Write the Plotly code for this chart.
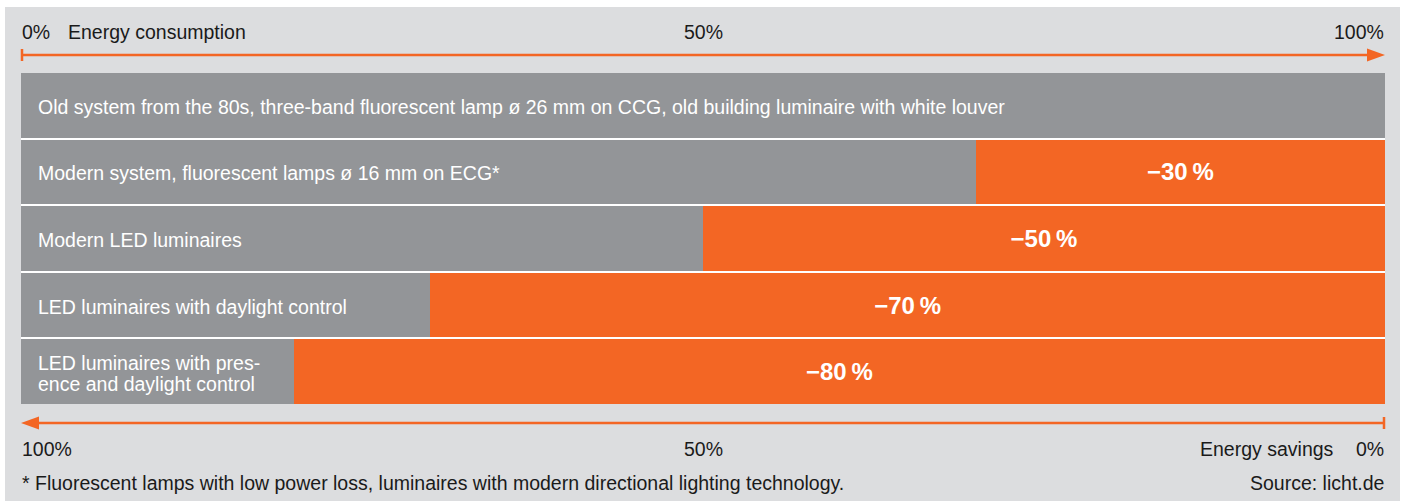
import plotly.graph_objects as go

# ---- data ----
categories = [
    "Old system from the 80s, three-band fluorescent lamp ø 26 mm on CCG, old building luminaire with white louver",
    "Modern system, fluorescent lamps ø 16 mm on ECG*",
    "Modern LED luminaires",
    "LED luminaires with daylight control",
    "LED luminaires with pres-<br>ence and daylight control",
]
consumption = [100, 70, 50, 30, 20]
savings = [0, 30, 50, 70, 80]
savings_labels = ["", "\u221230\u2009%", "\u221250\u2009%", "\u221270\u2009%", "\u221280\u2009%"]
top_ticks = [(0, "0%"), (50, "50%"), (100, "100%")]
bottom_ticks = [(0, "100%"), (50, "50%"), (100, "0%")]

GRAY = "#939598"
ORANGE = "#f36624"
BG = "#dcdddf"
TXT = "#1a1a1a"
FONT = "Liberation Sans, Arial, Helvetica, sans-serif"
FS = 19.5
LINE_H = 21

W, H = 1402, 501
L, R, T, B = 21, 1385, 73, 404  # plot area pixels


def py(ypx):
    return (B - ypx) / (B - T)


def px(xpx):
    return (xpx - L) / (R - L)


n = len(categories)
ypos = list(range(n))
gap = 0.03

fig = go.Figure()
fig.add_trace(go.Bar(
    y=ypos, x=consumption, orientation="h", marker=dict(color=GRAY, line=dict(width=0)),
    hoverinfo="skip", showlegend=False,
))
fig.add_trace(go.Bar(
    y=ypos, x=savings, orientation="h", marker=dict(color=ORANGE, line=dict(width=0)),
    text=savings_labels, textposition="inside", insidetextanchor="middle",
    textfont=dict(family=FONT, size=24, color="white", weight="bold"),
    hoverinfo="skip", showlegend=False,
))

annotations = []
# row labels (multi-line labels drawn line by line for tighter leading)
for i, c in enumerate(categories):
    lines = c.split("<br>")
    k = len(lines)
    for j, ln in enumerate(lines):
        annotations.append(dict(
            x=0, y=i, xref="x", yref="y", text=ln, showarrow=False, xanchor="left",
            yanchor="middle", xshift=15, yshift=((k - 1) / 2 - j) * LINE_H - 1.5, align="left",
            font=dict(family=FONT, size=FS, color="white"),
        ))

# top axis labels
for v, t in top_ticks:
    xa = "left" if v == 0 else ("right" if v == 100 else "center")
    annotations.append(dict(x=v, y=py(32), xref="x", yref="paper", text=t, showarrow=False,
                            xanchor=xa, yanchor="middle", xshift=-1 if v == 0 else (1 if v == 100 else 0),
                            font=dict(family=FONT, size=FS, color=TXT)))
annotations.append(dict(x=px(66), y=py(32), xref="paper", yref="paper", text="Energy consumption",
                        showarrow=False, xanchor="left", yanchor="middle",
                        font=dict(family=FONT, size=FS, color=TXT)))
# bottom axis labels
for v, t in bottom_ticks:
    xa = "left" if v == 0 else ("right" if v == 100 else "center")
    annotations.append(dict(x=v, y=py(449), xref="x", yref="paper", text=t, showarrow=False,
                            xanchor=xa, yanchor="middle", xshift=-1 if v == 0 else (1 if v == 100 else 0),
                            font=dict(family=FONT, size=FS, color=TXT)))
annotations.append(dict(x=px(1336), y=py(449), xref="paper", yref="paper", text="Energy savings",
                        showarrow=False, xanchor="right", yanchor="middle",
                        font=dict(family=FONT, size=FS, color=TXT)))
# footnote and source
annotations.append(dict(x=0, y=py(483), xref="paper", yref="paper", xshift=-1,
                        text="* Fluorescent lamps with low power loss, luminaires with modern directional lighting technology.",
                        showarrow=False, xanchor="left", yanchor="middle",
                        font=dict(family=FONT, size=FS, color=TXT)))
annotations.append(dict(x=1, y=py(483), xref="paper", yref="paper", text="Source: licht.de", xshift=1,
                        showarrow=False, xanchor="right", yanchor="middle",
                        font=dict(family=FONT, size=FS, color=TXT)))

shapes = []
# white outer margins (page around the gray panel)
shapes.append(dict(type="rect", xref="paper", yref="paper", x0=px(0), x1=px(W), y0=py(0), y1=py(7),
                   fillcolor="white", line=dict(width=0), layer="above"))
shapes.append(dict(type="rect", xref="paper", yref="paper", x0=px(0), x1=px(5), y0=py(0), y1=py(H),
                   fillcolor="white", line=dict(width=0), layer="above"))
shapes.append(dict(type="rect", xref="paper", yref="paper", x0=px(1400), x1=px(W), y0=py(0), y1=py(H),
                   fillcolor="white", line=dict(width=0), layer="above"))

# top arrow (consumption)
ay = 55
shapes.append(dict(type="line", xref="paper", yref="paper", x0=px(L + 1), x1=px(R - 10), y0=py(ay), y1=py(ay),
                   line=dict(color=ORANGE, width=2.5)))
shapes.append(dict(type="line", xref="paper", yref="paper", x0=px(L + 1), x1=px(L + 1), y0=py(49), y1=py(61),
                   line=dict(color=ORANGE, width=2.5)))
shapes.append(dict(type="path", xref="paper", yref="paper",
                   path=f"M {px(R)} {py(ay)} L {px(R - 18)} {py(ay - 6.5)} L {px(R - 18)} {py(ay + 6.5)} Z",
                   fillcolor=ORANGE, line=dict(width=0)))
# bottom arrow (savings)
by = 423
shapes.append(dict(type="line", xref="paper", yref="paper", x0=px(L + 10), x1=px(R - 1), y0=py(by), y1=py(by),
                   line=dict(color=ORANGE, width=2.5)))
shapes.append(dict(type="line", xref="paper", yref="paper", x0=px(R - 1), x1=px(R - 1), y0=py(417), y1=py(429),
                   line=dict(color=ORANGE, width=2.5)))
shapes.append(dict(type="path", xref="paper", yref="paper",
                   path=f"M {px(L)} {py(by)} L {px(L + 18)} {py(by - 6.5)} L {px(L + 18)} {py(by + 6.5)} Z",
                   fillcolor=ORANGE, line=dict(width=0)))

fig.update_layout(
    width=W, height=H, barmode="stack", bargap=gap,
    margin=dict(l=L, r=W - R, t=T, b=H - B, pad=0),
    paper_bgcolor=BG, plot_bgcolor="white",
    xaxis=dict(range=[0, 100], visible=False, fixedrange=True),
    yaxis=dict(range=[n - 0.5 - gap / 2, -0.5 + gap / 2], visible=False, fixedrange=True),
    annotations=annotations, shapes=shapes,
    uniformtext=dict(mode="show", minsize=8),
)

fig.write_html(
    "out.html",
    config={"displayModeBar": False},
    post_script="document.body.style.margin='0';document.body.style.overflow='hidden';",
)
